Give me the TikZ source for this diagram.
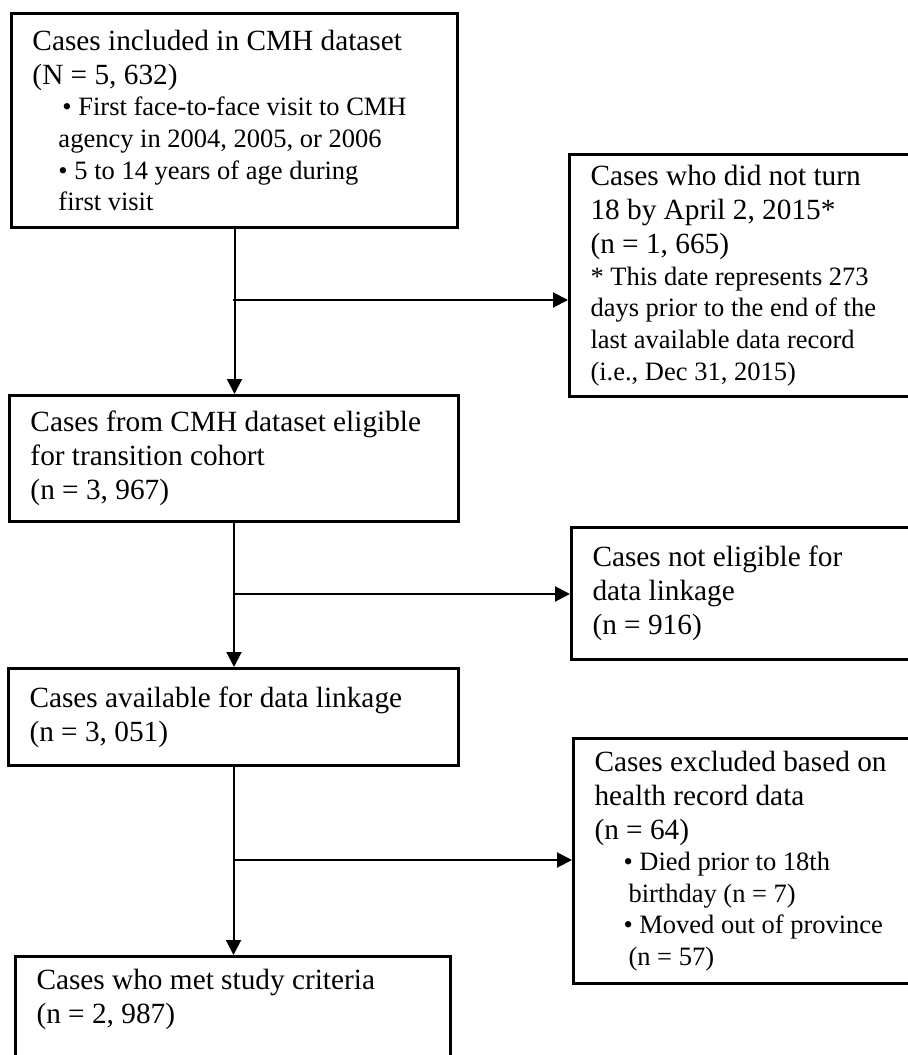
\documentclass[tikz,border=0pt]{standalone}
\usepackage{fontspec}
\setmainfont{Liberation Serif}
\usetikzlibrary{positioning, arrows.meta, calc}

\newcommand{\wordgap}{\spaceskip=0.25em plus 0.1em minus 0.05em\relax}
\newcommand{\boxfont}{\fontsize{14.65}{17}\selectfont}
\newcommand{\notefont}{\fontsize{13.25}{15.8}\selectfont\wordgap}

\begin{document}
\begin{tikzpicture}[x=0.5pt, y=-0.5pt,
    flowbox/.style={draw, line width=1.5pt, anchor=north west, align=left,
      inner xsep=10.5pt, inner ysep=0pt, font=\boxfont,
      execute at begin node=\wordgap},
    flowarrow/.style={line width=1pt, -{Triangle[length=7.5pt, width=7.5pt]}}]
  \useasboundingbox (0,0) rectangle (908,1055);
  \clip (0,0) rectangle (908,1055);

  % main column
  \node[flowbox, text width=202pt, minimum height=107pt] (incl) at (10,12)
    {Cases included in CMH dataset\\ (N = 5, 632)\\
     \notefont\leftskip=13pt
     \hspace*{2pt}\textbullet{} First face-to-face visit to CMH\\
     agency in 2004, 2005, or 2006\\
     \textbullet{} 5 to 14 years of age during\\
     first visit\par};
  \node[flowbox, text width=203.5pt, minimum height=63pt] (elig) at (8,394)
    {Cases from CMH dataset eligible\\ for transition cohort\\ (n = 3, 967)};
  \node[flowbox, text width=204pt, minimum height=48.5pt] (avail) at (7,667)
    {Cases available for data linkage\\ (n = 3, 051)};
  \node[flowbox, text width=196.5pt, inner ysep=6.5pt, text depth=37pt] (met) at (14,955)
    {Cases who met study criteria\\ (n = 2, 987)};

  % exclusions
  \node[flowbox, text width=155pt, minimum height=121pt] (notturn) at (568,153)
    {Cases who did not turn\\ 18 by April 2, 2015*\\ (n = 1, 665)\\
     \notefont * This date represents 273\\ days prior to the end of the\\
     last available data record\\ (i.e., Dec 31, 2015)\par};
  \node[flowbox, text width=154pt, minimum height=66pt] (noteli) at (570,526)
    {Cases not eligible for\\ data linkage\\ (n = 916)};
  \node[flowbox, text width=153pt, minimum height=122.5pt] (excl) at (572,737)
    {Cases excluded based on\\ health record data\\ (n = 64)\\
     \notefont\leftskip=14.5pt
     \textbullet{} Died prior to 18th\\
     \hspace*{2.5pt}birthday (n = 7)\\
     \textbullet{} Moved out of province\\
     \hspace*{2.5pt}(n = 57)\par};

  % connectors
  \coordinate (j1) at (233,300);
  \coordinate (j2) at (233,594);
  \coordinate (j3) at (233,860);
  \draw[flowarrow] (incl.south) -- (incl.south |- elig.north);
  \draw[flowarrow] (elig.south) -- (elig.south |- avail.north);
  \draw[flowarrow] (avail.south) -- (avail.south |- met.north);
  \draw[flowarrow] (j1) -- (j1 -| notturn.west);
  \draw[flowarrow] (j2) -- (j2 -| noteli.west);
  \draw[flowarrow] (j3) -- (j3 -| excl.west);
\end{tikzpicture}
\end{document}
